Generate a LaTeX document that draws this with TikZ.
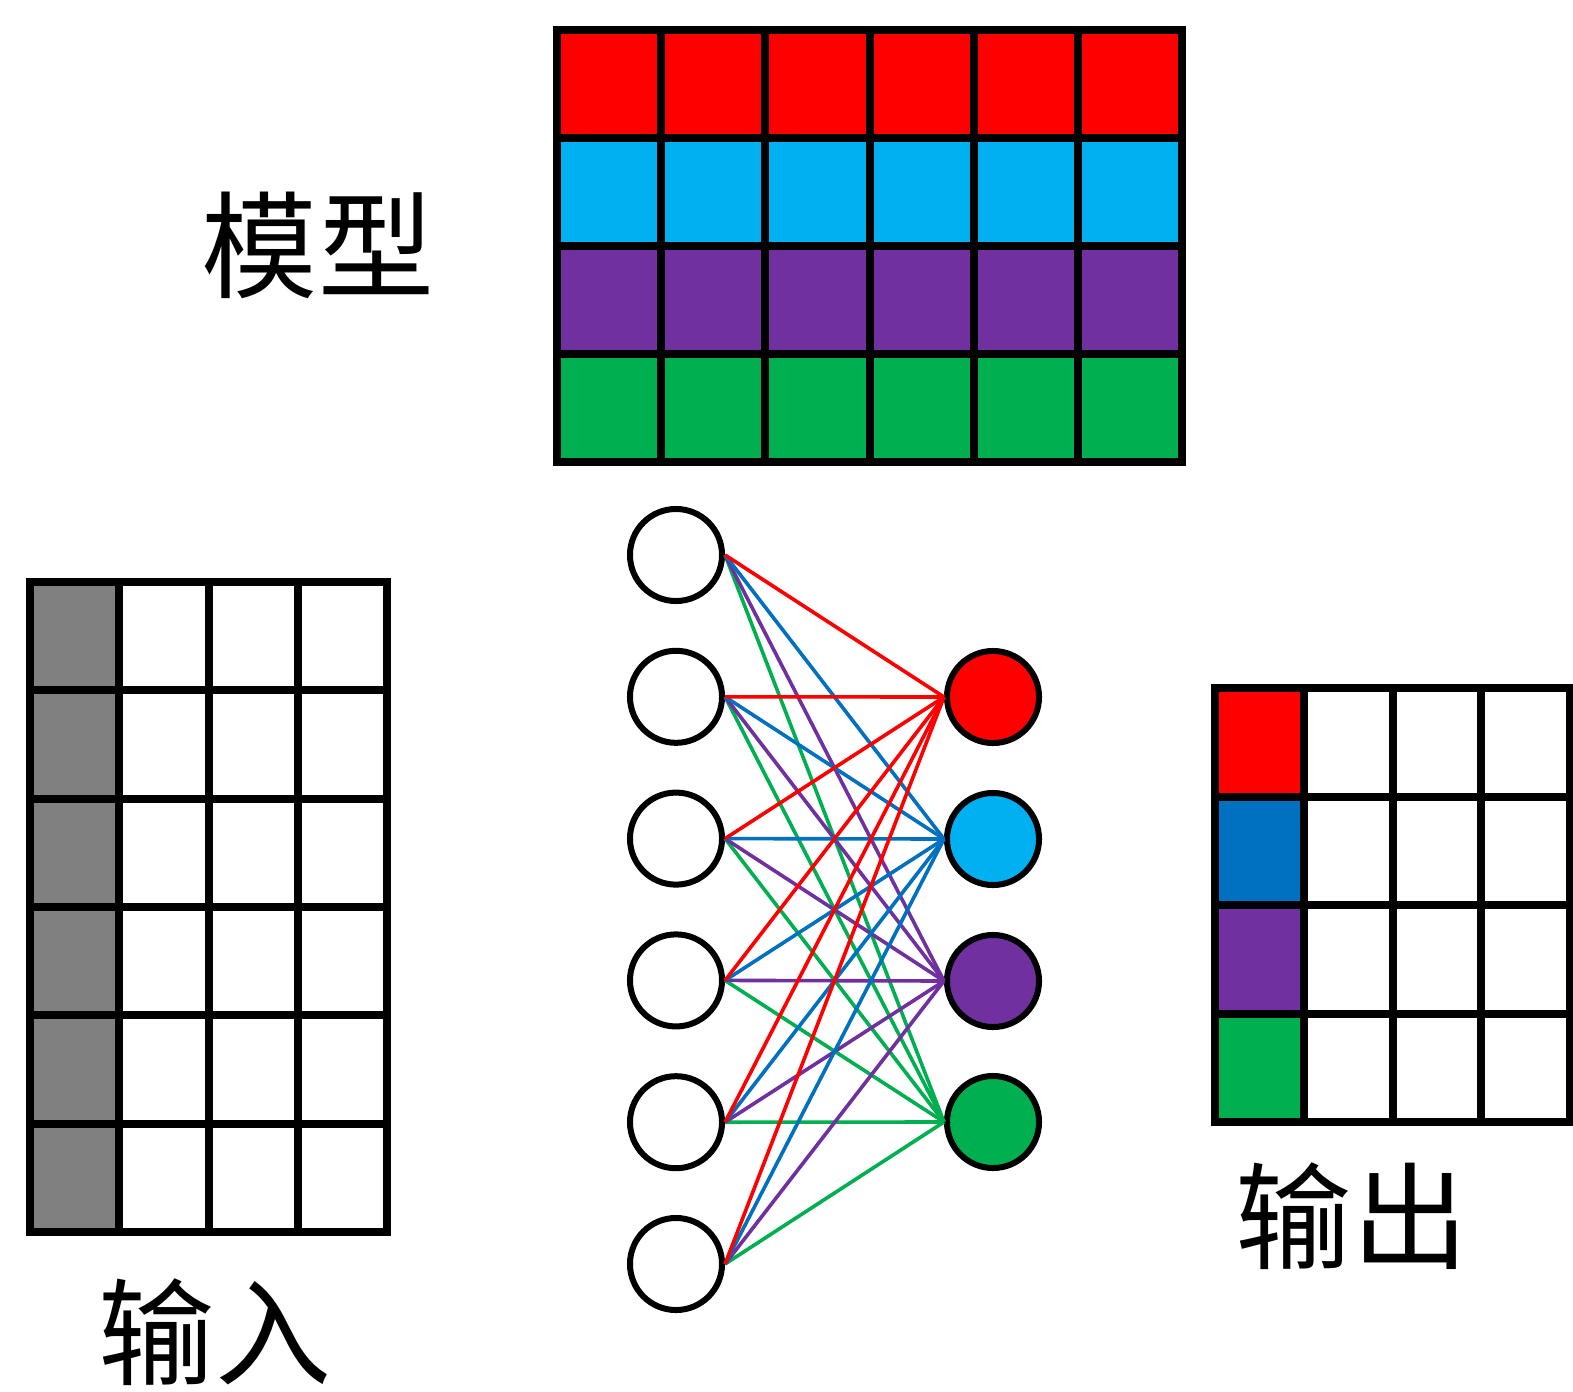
\documentclass[tikz,border=0pt]{standalone}
\usepackage{fontspec}
\newfontfamily\cjk{Noto Sans CJK SC}
\definecolor{netred}{RGB}{255,0,0}
\definecolor{netcyan}{RGB}{0,176,240}
\definecolor{netblue}{RGB}{0,112,192}
\definecolor{netpurple}{RGB}{112,48,160}
\definecolor{netgreen}{RGB}{0,176,80}
\definecolor{netgray}{RGB}{128,128,128}

\begin{document}
\begin{tikzpicture}[
        x=0.01cm, y=-0.01cm,
        cell/.style={draw=black, line width=0.08cm},
        neuron/.style={draw=black, circle, line width=0.06cm, minimum size=0.92cm, inner sep=0pt},
        link/.style={line width=0.036cm},
        bigtext/.style={font=\cjk\fontsize{33}{33}\selectfont, inner sep=0pt}
    ]
    \useasboundingbox (0,0) rectangle (1573,1391);

    % model
    \foreach \r/\c in {0/netred, 1/netcyan, 2/netpurple, 3/netgreen} {
        \foreach \k in {0,...,5} {
            \draw[cell, fill=\c] (557+104.17*\k, 30+108*\r) rectangle ++(104.17, 108);
        }
    }
    \node[bigtext] (model) at (318, 245) {模型};

    % input
    \foreach \r in {0,...,5} {
        \draw[cell, fill=netgray] (30, 582+108.33*\r) rectangle ++(89.25, 108.33);
        \foreach \k in {1,2,3} {
            \draw[cell] (30+89.25*\k, 582+108.33*\r) rectangle ++(89.25, 108.33);
        }
    }
    \node[bigtext] (input) at (215, 1332) {输入};

    % output
    \foreach \r/\c in {0/netred, 1/netblue, 2/netpurple, 3/netgreen} {
        \draw[cell, fill=\c] (1215, 688+108.5*\r) rectangle ++(88.75, 108.5);
        \foreach \k in {1,2,3} {
            \draw[cell] (1215+88.75*\k, 688+108.5*\r) rectangle ++(88.75, 108.5);
        }
    }
    \node[bigtext] (output) at (1352, 1216) {输出};

    % network
    \foreach \i in {1,...,6} {
        \node[neuron, fill=white] (in\i) at (676, 555+141.8*\i-141.8) {};
    }
    \node[neuron, fill=netred] (out1) at (993, 697) {};
    \node[neuron, fill=netcyan] (out2) at (993, 839) {};
    \node[neuron, fill=netpurple] (out3) at (993, 981) {};
    \node[neuron, fill=netgreen] (out4) at (993, 1122) {};

    \foreach \j/\c in {4/netgreen, 3/netpurple, 2/netblue, 1/netred} {
        \foreach \i in {1,...,6} {
            \draw[link, \c] (in\i.east) -- (out\j.west);
        }
    }
\end{tikzpicture}
\end{document}
